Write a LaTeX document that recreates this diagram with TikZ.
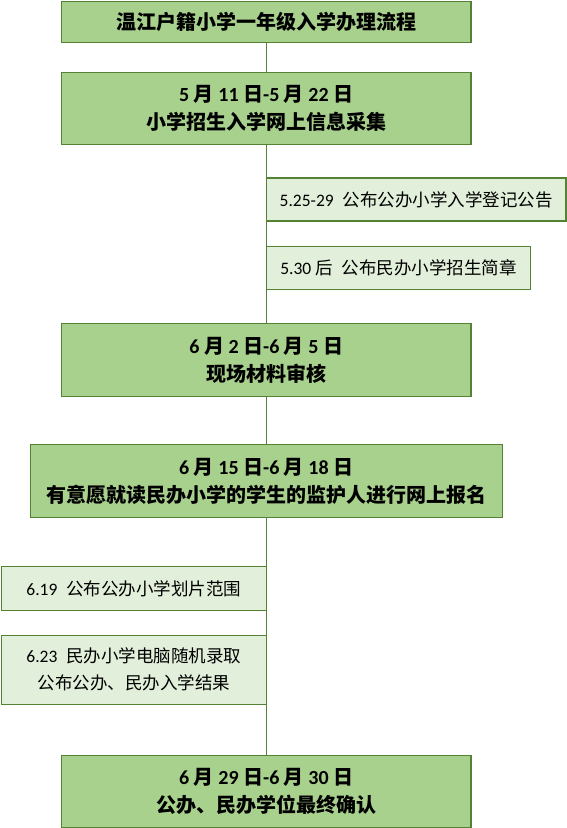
\documentclass[tikz,border=0pt]{standalone}
\usepackage{fontspec}
\setmainfont{Carlito}
\newfontfamily\cjk{Noto Sans CJK SC}
\newcommand{\zh}[1]{{\cjk #1}}
\definecolor{mainfill}{HTML}{A9D18E}
\definecolor{sidefill}{HTML}{E2EFDA}
\definecolor{edge}{HTML}{548235}
\begin{document}
\begin{tikzpicture}[x=1pt,y=-1pt,
  every node/.style={inner sep=0pt,outer sep=0pt,align=center,text=black},
  mainbox/.style={draw=edge,fill=mainfill,line width=1.2pt,font=\fontsize{20}{28}\selectfont\bfseries},
  sidebox/.style={draw=edge,fill=sidefill,line width=1.2pt,font=\fontsize{17.5}{27}\selectfont},
  conn/.style={draw=edge,line width=1.2pt}]
\useasboundingbox (0,0) rectangle (567,828);
\node[mainbox,minimum width=409.5pt,minimum height=40.6pt] (t) at (266.25,22)
  {\zh{温江户籍小学一年级入学办理流程}};
\node[mainbox,minimum width=409.5pt,minimum height=72pt] (b2) at (266.25,108.3)
  {5 \zh{月} 11 \zh{日}-5 \zh{月} 22 \zh{日}\\\zh{小学招生入学网上信息采集}};
\node[sidebox,minimum width=299.75pt,minimum height=43pt] (sa) at (416.1,199.5)
  {5.25-29\hspace{0.5em}\zh{公布公办小学入学登记公告}};
\node[sidebox,minimum width=264.25pt,minimum height=42.6pt] (sb) at (398.4,268)
  {5.30 \zh{后}\hspace{0.5em}\zh{公布民办小学招生简章}};
\node[mainbox,minimum width=409.5pt,minimum height=73.4pt] (b3) at (266.25,360)
  {6 \zh{月} 2 \zh{日}-6 \zh{月} 5 \zh{日}\\\zh{现场材料审核}};
\node[mainbox,minimum width=472.3pt,minimum height=73.4pt] (b4) at (266.25,481)
  {6 \zh{月} 15 \zh{日}-6 \zh{月} 18 \zh{日}\\\zh{有意愿就读民办小学的学生的监护人进行网上报名}};
\node[sidebox,minimum width=264.85pt,minimum height=44pt] (s5) at (133.83,588.7)
  {6.19\hspace{0.5em}\zh{公布公办小学划片范围}};
\node[sidebox,minimum width=264.85pt,minimum height=69pt] (s6) at (133.83,669.8)
  {6.23\hspace{0.5em}\zh{民办小学电脑随机录取}\\\zh{公布公办、民办入学结果}};
\node[mainbox,minimum width=409.5pt,minimum height=72pt] (b7) at (266.25,791.3)
  {6 \zh{月} 29 \zh{日}-6 \zh{月} 30 \zh{日}\\\zh{公办、民办学位最终确认}};
\draw[conn] (t.south) -- (b2.north);
\draw[conn] (b2.south) -- (b3.north);
\draw[conn] (b3.south) -- (b4.north);
\draw[conn] (b4.south) -- (b7.north);
\end{tikzpicture}
\end{document}
